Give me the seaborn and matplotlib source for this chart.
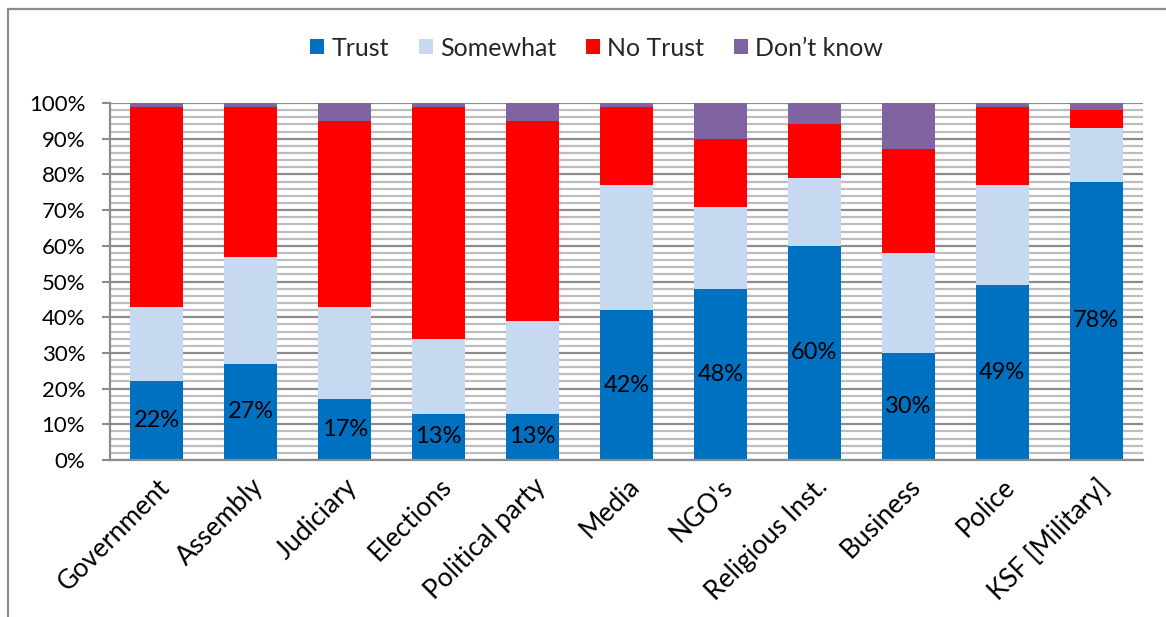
import matplotlib
matplotlib.use("Agg")
import matplotlib.pyplot as plt
from matplotlib.patches import Patch, Rectangle
from matplotlib.ticker import MultipleLocator, FuncFormatter
import numpy as np
import pandas as pd
import seaborn as sns

categories = ["Government", "Assembly", "Judiciary", "Elections", "Political party",
              "Media", "NGO's", "Religious Inst.", "Business", "Police", "KSF [Military]"]
trust = [22, 27, 17, 13, 13, 42, 48, 60, 30, 49, 78]
somewhat = [21, 30, 26, 21, 26, 35, 23, 19, 28, 28, 15]
no_trust = [56, 42, 52, 65, 56, 22, 19, 15, 29, 22, 5]
dont_know = [1, 1, 5, 1, 5, 1, 10, 6, 13, 1, 2]
series_names = ["Trust", "Somewhat", "No Trust", "Don\u2019t know"]
colors = ["#0070C0", "#C6D9F1", "#FF0000", "#8064A2"]

sns.set_theme(style="white")
plt.rcParams["font.family"] = ["Lato", "DejaVu Sans"]

df = pd.DataFrame({"cat": categories, "Trust": trust, "Somewhat": somewhat,
                   "No Trust": no_trust, "DK": dont_know})
cum = df[["Trust", "Somewhat", "No Trust", "DK"]].cumsum(axis=1)

fig = plt.figure(figsize=(11.66, 6.17), dpi=100)
ax = fig.add_axes([0.0943, 0.2544, 0.8860, 0.5786])

# draw stacked bars from top layer down
for col, c in zip(["DK", "No Trust", "Somewhat", "Trust"], colors[::-1]):
    sns.barplot(x=df["cat"], y=cum[col], color=c, width=0.565, ax=ax,
                linewidth=0, saturation=1, order=categories)

ax.set_ylim(0, 100)
ax.set_xlim(-0.5, len(categories) - 0.5)
ax.set_xlabel("")
ax.set_ylabel("")

# gridlines
ax.yaxis.set_major_locator(MultipleLocator(10))
ax.yaxis.set_minor_locator(MultipleLocator(2))
ax.grid(which="minor", axis="y", color="#bdbdbd", linewidth=1.6, zorder=0)
ax.grid(which="major", axis="y", color="#8c8c8c", linewidth=1.6, zorder=0)
ax.grid(which="major", axis="x", visible=False)
ax.set_axisbelow(True)

ax.yaxis.set_major_formatter(FuncFormatter(lambda v, p: f"{int(v)}%"))
ax.tick_params(axis="y", which="major", left=True, length=5.8, width=1.5, color="#8c8c8c",
               labelsize=16, pad=12, labelcolor="black")
ax.tick_params(axis="y", which="minor", left=False)
ax.tick_params(axis="x", bottom=False, labelsize=19, labelcolor="black", pad=4)

for lab in ax.get_xticklabels():
    lab.set_rotation(45)
    lab.set_ha("right")
    lab.set_rotation_mode("anchor")

for s in ["top", "right"]:
    ax.spines[s].set_visible(False)
for s in ["left", "bottom"]:
    ax.spines[s].set_color("#8c8c8c")
    ax.spines[s].set_linewidth(1.6)

# labels for trust segments
for i, v in enumerate(trust):
    ax.text(i, v / 2, f"{v}%", ha="center", va="center", fontsize=17, color="black")

# legend
handles = [Patch(facecolor=c, edgecolor="none", label=n) for c, n in zip(colors, series_names)]
fig.legend(handles=handles, loc="center", bbox_to_anchor=(0.5116, 0.922), ncol=4,
           frameon=False, fontsize=18, handlelength=0.56, handleheight=0.56,
           handletextpad=0.28, columnspacing=1.2)

# outer frame (top and left visible)
fig.patches.append(Rectangle((8 / 1166, -0.01), 1.2, 1 - 9 / 617 + 0.01, transform=fig.transFigure,
                             fill=False, edgecolor="#8c8c8c", linewidth=1.6))

fig.savefig("out.png", dpi=100)
